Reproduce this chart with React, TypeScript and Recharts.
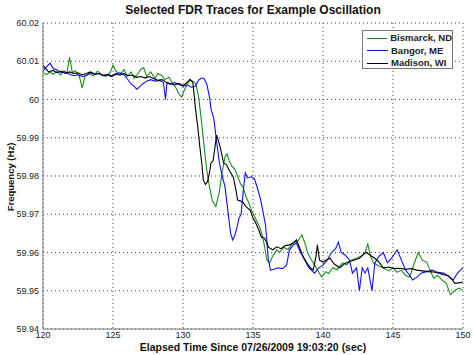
import React from 'react';
import { LineChart, Line, XAxis, YAxis, CartesianGrid } from 'recharts';

const xTicks = [120, 125, 130, 135, 140, 145, 150];
const yTicks = [59.94, 59.95, 59.96, 59.97, 59.98, 59.99, 60.0, 60.01, 60.02];

const bismarckT = [120, 120.25, 120.5, 120.75, 121, 121.25, 121.5, 121.7, 121.9, 122.1, 122.3, 122.6, 122.8, 123.0, 123.3, 123.6, 123.9, 124.2, 124.5, 124.8, 125.0, 125.2, 125.5, 125.8, 126.0, 126.3, 126.5, 126.8, 127.0, 127.2, 127.4, 127.7, 128.0, 128.2, 128.5, 128.7, 129.0, 129.3, 129.5, 129.7, 129.9, 130.1, 130.3, 130.5, 130.7, 130.9, 131.1, 131.3, 131.5, 131.7, 131.9, 132.1, 132.35, 132.6, 132.8, 133.0, 133.15, 133.3, 133.5, 133.7, 133.9, 134.1, 134.3, 134.5, 134.7, 134.9, 135.1, 135.3, 135.5, 135.7, 135.9, 136.0, 136.2, 136.4, 136.7, 136.9, 137.2, 137.5, 137.9, 138.2, 138.5, 138.7, 138.9, 139.1, 139.3, 139.6, 139.9, 140.2, 140.4, 140.7, 141.0, 141.4, 141.7, 142.0, 142.4, 142.7, 143.0, 143.2, 143.4, 143.6, 144.0, 144.3, 144.7, 145.0, 145.3, 145.6, 145.9, 146.2, 146.5, 146.8, 147.1, 147.4, 147.7, 147.9, 148.2, 148.5, 148.8, 149.1, 149.4, 149.7, 150.0];
const bismarckF = [60.007, 60.0065, 60.0072, 60.0066, 60.0074, 60.0064, 60.0075, 60.0068, 60.011, 60.007, 60.0075, 60.006, 60.003, 60.0062, 60.0068, 60.0062, 60.0074, 60.0065, 60.006, 60.007, 60.009, 60.0075, 60.0065, 60.0078, 60.006, 60.0072, 60.0055, 60.0068, 60.008, 60.0083, 60.006, 60.0072, 60.0055, 60.0068, 60.0062, 60.0052, 60.0058, 60.004, 60.003, 60.0015, 60.0006, 60.0025, 60.004, 60.005, 60.0048, 60.0042, 60.001, 59.995, 59.988, 59.9815, 59.977, 59.9735, 59.972, 59.976, 59.981, 59.985, 59.9858, 59.984, 59.9825, 59.9818, 59.98, 59.978, 59.977, 59.9745, 59.973, 59.971, 59.9695, 59.968, 59.9665, 59.964, 59.96, 59.958, 59.9573, 59.959, 59.9607, 59.96, 59.9614, 59.9608, 59.9627, 59.963, 59.9646, 59.9625, 59.96, 59.9585, 59.9573, 59.9555, 59.9536, 59.955, 59.9545, 59.956, 59.9555, 59.9573, 59.9568, 59.958, 59.9585, 59.959, 59.96, 59.9622, 59.959, 59.9573, 59.9565, 59.956, 59.9552, 59.956, 59.9548, 59.9554, 59.954, 59.9536, 59.957, 59.96, 59.958, 59.9575, 59.955, 59.9533, 59.954, 59.9528, 59.952, 59.949, 59.95, 59.9507, 59.9502];

const bangorT = [120, 120.25, 120.5, 120.75, 121, 121.3, 121.6, 121.9, 122.2, 122.5, 122.8, 123.1, 123.4, 123.7, 124.0, 124.3, 124.6, 124.9, 125.2, 125.5, 125.8, 126.0, 126.3, 126.5, 126.7, 126.9, 127.1, 127.4, 127.7, 128.0, 128.3, 128.6, 128.75, 128.85, 129.1, 129.4, 129.7, 130.0, 130.3, 130.6, 130.9, 131.1, 131.3, 131.5, 131.7, 131.9, 132.0, 132.2, 132.4, 132.6, 132.8, 133.0, 133.2, 133.4, 133.55, 133.7, 133.85, 134.0, 134.15, 134.3, 134.45, 134.6, 134.9, 135.1, 135.3, 135.5, 135.7, 135.9, 136.1, 136.25, 136.5, 136.8, 137.1, 137.4, 137.6, 137.9, 138.1, 138.4, 138.7, 139.0, 139.4, 139.7, 140.0, 140.3, 140.6, 140.9, 141.1, 141.3, 141.6, 141.9, 142.1, 142.4, 142.6, 142.8, 143.0, 143.2, 143.5, 143.7, 144.0, 144.3, 144.6, 144.9, 145.3, 145.6, 145.9, 146.2, 146.4, 146.7, 147.0, 147.4, 147.8, 148.2, 148.6, 148.9, 149.3, 149.6, 150.0];
const bangorF = [60.0075, 60.0085, 60.0095, 60.008, 60.0078, 60.007, 60.0072, 60.0066, 60.0062, 60.0065, 60.006, 60.0062, 60.007, 60.0066, 60.0068, 60.0063, 60.0066, 60.0062, 60.0068, 60.007, 60.0064, 60.0055, 60.004, 60.0035, 60.0027, 60.0033, 60.004, 60.0048, 60.0052, 60.0048, 60.005, 60.0045, 60.0, 60.0042, 60.004, 60.0044, 60.004, 60.0035, 60.0038, 60.0032, 60.0035, 60.005, 60.0056, 60.0055, 60.004, 60.0005, 59.9975, 59.995, 59.989, 59.9834, 59.98, 59.9772, 59.971, 59.965, 59.9633, 59.9645, 59.9665, 59.969, 59.97, 59.976, 59.9808, 59.9795, 59.9798, 59.9793, 59.977, 59.9745, 59.971, 59.967, 59.958, 59.9554, 59.9556, 59.956, 59.9558, 59.9567, 59.9607, 59.962, 59.9625, 59.96, 59.958, 59.956, 59.9546, 59.956, 59.9567, 59.958, 59.96, 59.961, 59.9627, 59.96, 59.9593, 59.958, 59.9546, 59.956, 59.95, 59.956, 59.9546, 59.956, 59.95, 59.9573, 59.959, 59.96, 59.9573, 59.9585, 59.9607, 59.958, 59.9554, 59.954, 59.9528, 59.9535, 59.9546, 59.955, 59.9554, 59.9548, 59.9546, 59.954, 59.9528, 59.9546, 59.956];

const madisonT = [120, 120.2, 120.4, 120.7, 121.0, 121.3, 121.6, 121.9, 122.2, 122.5, 122.8, 123.1, 123.4, 123.7, 124.0, 124.3, 124.6, 124.9, 125.2, 125.5, 125.8, 126.1, 126.4, 126.7, 127.0, 127.3, 127.6, 127.9, 128.2, 128.5, 128.8, 129.1, 129.4, 129.7, 130.0, 130.3, 130.5, 130.7, 130.8, 130.9, 131.05, 131.2, 131.35, 131.45, 131.6, 131.75, 131.9, 132.0, 132.15, 132.3, 132.4, 132.55, 132.7, 132.9, 133.1, 133.3, 133.6, 133.8, 133.9, 134.1, 134.3, 134.5, 134.8, 135.0, 135.2, 135.4, 135.6, 135.8, 136.0, 136.1, 136.4, 136.7, 137.0, 137.3, 137.6, 137.9, 138.1, 138.3, 138.6, 138.9, 139.1, 139.3, 139.5, 139.6, 139.75, 140.0, 140.2, 140.5, 140.8, 141.2, 141.5, 141.8, 142.2, 142.6, 142.9, 143.1, 143.4, 143.7, 144.0, 144.3, 144.7, 145.1, 145.5, 145.9, 146.3, 146.7, 147.1, 147.5, 147.9, 148.3, 148.6, 148.9, 149.2, 149.4, 149.6, 150.0];
const madisonF = [60.009, 60.008, 60.0072, 60.0076, 60.007, 60.0074, 60.0068, 60.0072, 60.0068, 60.007, 60.0064, 60.0068, 60.0072, 60.0066, 60.0068, 60.0062, 60.0065, 60.006, 60.0066, 60.0064, 60.0068, 60.0062, 60.0064, 60.0058, 60.006, 60.0056, 60.006, 60.0055, 60.005, 60.0052, 60.0045, 60.0042, 60.0038, 60.0042, 60.0036, 60.0045, 60.0053, 60.0045, 60.001, 59.9973, 59.993, 59.9877, 59.983, 59.979, 59.9778, 59.9785, 59.981, 59.9834, 59.984, 59.988, 59.9907, 59.989, 59.9868, 59.9834, 59.983, 59.9815, 59.9797, 59.976, 59.9737, 59.9735, 59.973, 59.972, 59.971, 59.969, 59.9677, 59.966, 59.964, 59.9638, 59.9625, 59.9614, 59.9607, 59.9615, 59.961, 59.9618, 59.962, 59.9625, 59.9633, 59.9615, 59.9588, 59.957, 59.956, 59.9554, 59.959, 59.962, 59.958, 59.9575, 59.958, 59.9585, 59.957, 59.956, 59.957, 59.9575, 59.958, 59.9585, 59.9595, 59.96, 59.9592, 59.9585, 59.9575, 59.956, 59.9562, 59.9558, 59.9559, 59.9556, 59.9558, 59.9554, 59.9552, 59.955, 59.9549, 59.9546, 59.9542, 59.954, 59.953, 59.952, 59.952, 59.9523];

const seriesNames = ['Bismarck, ND', 'Bangor, ME', 'Madison, WI'];
const seriesColors = ['#1a8a1a', '#1010ee', '#000000'];

const toData = (t: number[], f: number[]) => t.map((x, i) => ({ t: x, f: f[i] }));
const seriesData = [toData(bismarckT, bismarckF), toData(bangorT, bangorF), toData(madisonT, madisonF)];

const FONT = 'Arial, "Liberation Sans", sans-serif';

const LegendBox = () => (
  <div
    style={{
      position: 'absolute',
      left: 362,
      top: 30,
      width: 91,
      height: 39,
      background: '#fff',
      border: '1px solid #777',
      fontFamily: FONT,
      fontSize: 9.5,
      fontWeight: 'bold',
      color: '#222',
      boxSizing: 'border-box',
      paddingTop: 1,
    }}
  >
    {seriesNames.map((n, i) => (
      <div key={n} style={{ display: 'flex', alignItems: 'center', height: 12.5 }}>
        <div style={{ width: 21, height: 0, borderTop: `1.5px solid ${seriesColors[i]}`, marginLeft: 4, marginRight: 3 }} />
        <span style={{ whiteSpace: 'nowrap', lineHeight: '12px' }}>{n}</span>
      </div>
    ))}
  </div>
);

const fmt = (v: number) => Number(v.toFixed(2)).toString();

export default function App() {
  return (
    <div style={{ position: 'absolute', left: 0, top: 0, width: 474, height: 355, background: '#fff', fontFamily: FONT }}>
      <LineChart width={474} height={355} margin={{ top: 23, right: 11, left: 0, bottom: 0 }}>
        <CartesianGrid stroke="#444" strokeDasharray="1 3" strokeWidth={1} />
        <XAxis
          dataKey="t"
          type="number"
          domain={[120, 150]}
          ticks={xTicks}
          allowDataOverflow
          height={26}
          stroke="#777"
          tickLine={false}
          tickSize={0}
          tick={{ fill: '#222', fontSize: 9, fontFamily: FONT }}
          tickMargin={3}
        />
        <XAxis xAxisId="top" orientation="top" type="number" domain={[120, 150]} ticks={xTicks} height={0} stroke="#777" tick={false} tickLine={false} />
        <YAxis
          dataKey="f"
          type="number"
          domain={[59.94, 60.02]}
          ticks={yTicks}
          allowDataOverflow
          width={43}
          stroke="#777"
          tickLine={false}
          tickSize={0}
          tickFormatter={fmt}
          tick={{ fill: '#222', fontSize: 9, fontFamily: FONT }}
          tickMargin={4}
        />
        <YAxis yAxisId="right" orientation="right" type="number" domain={[59.94, 60.02]} ticks={yTicks} width={0} stroke="#777" tick={false} tickLine={false} />
        {seriesData.map((d, i) => (
          <Line
            key={seriesNames[i]}
            data={d}
            dataKey="f"
            name={seriesNames[i]}
            type="linear"
            stroke={seriesColors[i]}
            strokeWidth={1.1}
            dot={false}
            isAnimationActive={false}
          />
        ))}
      </LineChart>
      <LegendBox />
      <div style={{ position: 'absolute', left: 43, width: 420, top: 3, textAlign: 'center', fontSize: 12, fontWeight: 'bold', color: '#111' }}>
        Selected FDR Traces for Example Oscillation
      </div>
      <div style={{ position: 'absolute', left: 43, width: 420, top: 341, textAlign: 'center', fontSize: 10.5, fontWeight: 'bold', color: '#111', lineHeight: '12px' }}>
        Elapsed Time Since 07/26/2009 19:03:20 (sec)
      </div>
      <div
        style={{
          position: 'absolute',
          left: 10,
          top: 177,
          transform: 'translate(-50%, -50%) rotate(-90deg)',
          fontSize: 9.5,
          fontWeight: 'bold',
          color: '#111',
          whiteSpace: 'nowrap',
        }}
      >
        Frequency (Hz)
      </div>
    </div>
  );
}
